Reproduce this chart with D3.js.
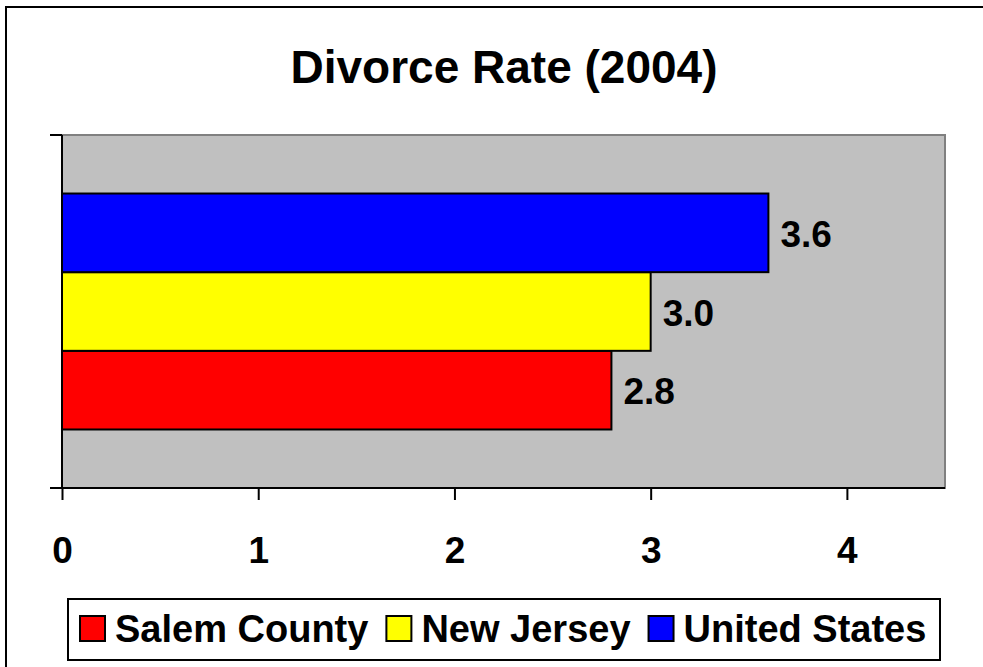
<!DOCTYPE html>
<html lang="en">
<head>
    <meta charset="UTF-8">
    <title>Divorce Rate (2004)</title>
    <style>
        body {
            margin: 0;
            padding: 0;
            background-color: #fff;
        }
        svg text {
            font-family: "Liberation Sans", Arial, sans-serif;
            font-weight: bold;
            fill: #000;
        }
    </style>
</head>
<body>
    <div id="chart"></div>
    <script src="https://d3js.org/d3.v7.min.js"></script>
    <script>
        const title = "Divorce Rate (2004)";
        const categories = ["Salem County", "New Jersey", "United States"];
        const values = [2.8, 3.0, 3.6];
        const colors = ["#FF0000", "#FFFF00", "#0000FF"];
        const xTicks = [0, 1, 2, 3, 4];

        const width = 983;
        const height = 667;
        const plot = { left: 62, top: 135, right: 945, bottom: 488 };

        const svg = d3.select("#chart")
            .append("svg")
            .attr("width", width)
            .attr("height", height);

        // outer chart border (runs off the right and bottom edges)
        svg.append("rect")
            .attr("x", 6).attr("y", 7)
            .attr("width", 1000).attr("height", 700)
            .attr("fill", "#fff")
            .attr("stroke", "#000")
            .attr("stroke-width", 2);

        svg.append("text")
            .attr("x", 504)
            .attr("y", 83)
            .attr("text-anchor", "middle")
            .style("font-size", "46px")
            .text(title);

        const xScale = d3.scaleLinear().domain([0, 4.5]).range([plot.left, plot.right]);

        // top-to-bottom order: United States, New Jersey, Salem County
        const yScale = d3.scaleBand()
            .domain(categories.slice().reverse())
            .range([plot.top, plot.bottom])
            .paddingInner(0)
            .paddingOuter(0.744);

        // plot area
        svg.append("rect")
            .attr("x", plot.left)
            .attr("y", plot.top)
            .attr("width", plot.right - plot.left)
            .attr("height", plot.bottom - plot.top)
            .attr("fill", "#C0C0C0")
            .attr("stroke", "#808080")
            .attr("stroke-width", 2);

        const data = categories.map((c, i) => ({ name: c, value: values[i], color: colors[i] }));

        svg.selectAll("rect.bar")
            .data(data)
            .enter()
            .append("rect")
            .attr("class", "bar")
            .attr("x", xScale(0))
            .attr("y", d => yScale(d.name))
            .attr("width", d => xScale(d.value) - xScale(0))
            .attr("height", yScale.bandwidth())
            .attr("fill", d => d.color)
            .attr("stroke", "#000")
            .attr("stroke-width", 2);

        svg.selectAll("text.value")
            .data(data)
            .enter()
            .append("text")
            .attr("class", "value")
            .attr("x", d => xScale(d.value) + 12)
            .attr("y", d => yScale(d.name) + yScale.bandwidth() / 2 + 14)
            .style("font-size", "37px")
            .text(d => d.value.toFixed(1));

        // bottom axis
        const xAxis = d3.axisBottom(xScale)
            .tickValues(xTicks)
            .tickFormat(d3.format("d"))
            .tickSize(12)
            .tickPadding(37);

        const gx = svg.append("g")
            .attr("transform", `translate(0,${plot.bottom})`)
            .call(xAxis);
        gx.select(".domain")
            .attr("d", `M${plot.left},0H${plot.right}`)
            .attr("stroke", "#000")
            .attr("stroke-width", 2);
        gx.selectAll(".tick line").attr("stroke", "#000").attr("stroke-width", 2);
        gx.selectAll(".tick text")
            .style("font-size", "37px")
            .attr("font-family", null);

        // left axis: just the line and two ticks at the plot edges
        const gy = svg.append("g");
        gy.append("line")
            .attr("x1", plot.left).attr("x2", plot.left)
            .attr("y1", plot.top).attr("y2", plot.bottom)
            .attr("stroke", "#000").attr("stroke-width", 2);
        gy.selectAll("line.tick")
            .data([plot.top, plot.bottom])
            .enter()
            .append("line")
            .attr("class", "tick")
            .attr("x1", plot.left - 12).attr("x2", plot.left)
            .attr("y1", d => d).attr("y2", d => d)
            .attr("stroke", "#000").attr("stroke-width", 2);

        // legend
        const legend = svg.append("g");
        legend.append("rect")
            .attr("x", 68).attr("y", 599)
            .attr("width", 872).attr("height", 61)
            .attr("fill", "#fff")
            .attr("stroke", "#000")
            .attr("stroke-width", 2);

        let lx = 80;
        data.forEach(d => {
            legend.append("rect")
                .attr("x", lx).attr("y", 616)
                .attr("width", 25).attr("height", 25)
                .attr("fill", d.color)
                .attr("stroke", "#000")
                .attr("stroke-width", 2);
            const t = legend.append("text")
                .attr("x", lx + 35)
                .attr("y", 642)
                .style("font-size", "38px")
                .text(d.name);
            lx += 35 + t.node().getComputedTextLength() + 18;
        });
    </script>
</body>
</html>
